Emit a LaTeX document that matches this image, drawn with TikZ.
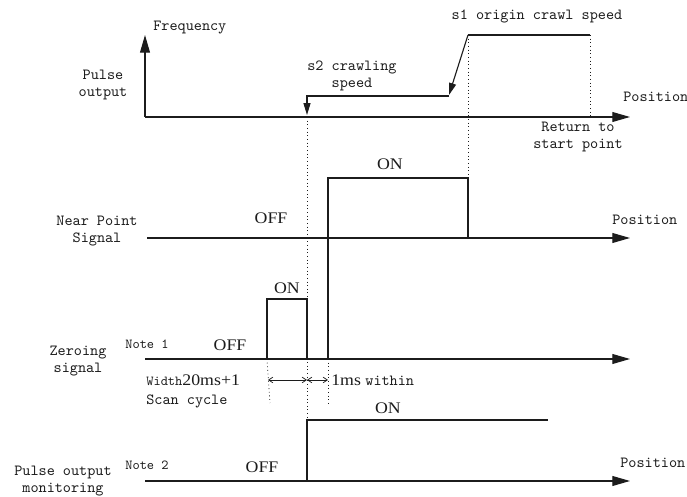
\documentclass[tikz,border=0pt]{standalone}
\usepackage{fontspec}
\usepackage{xcolor}
\usepackage{tikz}
\usetikzlibrary{arrows.meta}
\newfontfamily\monoface{Latin Modern Mono}
\newfontfamily\serifface[FakeStretch=1.1]{Liberation Serif}
\newcommand\sigfont{\monoface\fontsize{11}{12.3}\selectfont}
\newcommand\notefont{\monoface\fontsize{9.8}{12}\selectfont}
\newcommand\statefont{\serifface\fontsize{11.5}{12.5}\selectfont}
\definecolor{ink}{HTML}{1C1C1C}
\definecolor{paper}{HTML}{FFFFFF}
\tikzset{
  axis/.style={-{Triangle[length=12.5pt,width=7pt]},draw=ink,line width=.8pt},
  wave/.style={draw=ink,line width=.8pt},
  drop/.style={-{Triangle[length=8.5pt,width=5pt]},draw=ink,line width=.8pt},
  guide/.style={draw=ink,dotted,line width=.6pt},
  span/.style={{Straight Barb[length=3pt,width=4pt]}-{Straight Barb[length=3pt,width=4pt]},
               draw=ink,line width=.5pt},
  siglabel/.style={font=\sigfont,text=ink,align=center,inner sep=0pt},
  notetext/.style={font=\notefont,text=ink,anchor=west,inner sep=0pt},
  statetext/.style={font=\statefont,text=ink,inner sep=0pt},
}
\begin{document}
\begin{tikzpicture}[x=0.025cm,y=-0.025cm]
  \useasboundingbox[fill=paper] (0,0) rectangle (687,497);

  \node[siglabel] (pulselbl) at (103,85) {Pulse\\output};
  \node[siglabel] (nearlbl) at (97,231) {Near Point\\Signal};
  \node[siglabel] (zerolbl) at (78,361) {Zeroing\\signal};
  \node[siglabel] (monlbl) at (63,481) {Pulse output\\monitoring};

  \draw[axis] (145,117) -- (145,35);
  \node[siglabel,anchor=west] (freq) at (153,28) {Frequency};
  \draw[axis] (145,117) -- (630,117);
  \draw[axis] (147,238) -- (630,238);
  \draw[axis] (145,359) -- (630,359);
  \draw[axis] (145,481) -- (630,481);
  \node[siglabel,anchor=west] (pos1) at (623,97) {Position};
  \node[siglabel,anchor=west] (pos2) at (612,220) {Position};
  \node[siglabel,anchor=west] (pos3) at (620,463) {Position};

  \draw[wave] (468,35) -- (590,35);
  \draw[guide] (590,35) -- (590,117);
  \draw[drop] (468,35) -- (449,95);
  \draw[drop] (449,96) -- (307,96) -- (307,115);
  \node[siglabel] (s1) at (537,16) {s1 origin crawl speed};
  \node[siglabel,align=left,anchor=west] (s2) at (307,76) {s2 crawling\\\phantom{s2 }speed};
  \node[siglabel] (ret) at (578,137) {Return to\\start point};

  \draw[guide] (307,117) -- (307,420);
  \draw[guide] (468,35) -- (468,178);
  \draw[wave] (328,359) -- (328,178) -- (468,178) -- (468,238);
  \node[statetext] (nearoff) at (271,218) {OFF};
  \node[statetext] (nearon) at (390,164) {ON};

  \draw[wave] (267,359) -- (267,299) -- (307,299) -- (307,359);
  \node[statetext] (zerooff) at (230,345) {OFF};
  \node[statetext] (zeroon) at (287,288) {ON};
  \node[notetext] (note1) at (125,344) {Note 1};
  \draw[guide] (267,359) -- (270,403);
  \draw[guide] (328,359) -- (328,405);
  \draw[span] (268,380) -- (307,380);
  \draw[span] (307,380) -- (328,380);
  \node[anchor=west,inner sep=0pt,text=ink] (width) at (146,380) {\notefont Width\statefont 20ms+1};
  \node[siglabel,anchor=west] (scan) at (146,401) {Scan cycle};
  \node[anchor=west,inner sep=0pt,text=ink] (within) at (331,380) {\statefont 1ms \sigfont within};

  \draw[wave] (307,481) -- (307,420) -- (548,420);
  \node[statetext] (monoff) at (262,467) {OFF};
  \node[statetext] (monon) at (388,408) {ON};
  \node[notetext] (note2) at (125,465) {Note 2};
\end{tikzpicture}
\end{document}
